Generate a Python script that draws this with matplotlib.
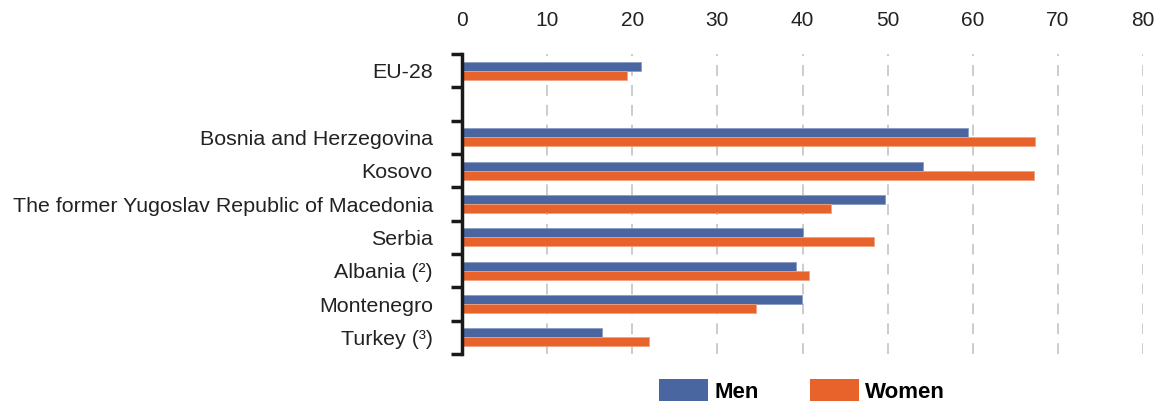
import numpy as np
import matplotlib
matplotlib.use('Agg')
from matplotlib import pyplot as plt
from matplotlib.patches import Patch

plt.rcParams['font.family'] = ['Liberation Sans', 'DejaVu Sans']

# data (share in %); None marks the empty spacer row
countries = ['EU-28', None, 'Bosnia and Herzegovina', 'Kosovo',
             'The former Yugoslav Republic of Macedonia', 'Serbia',
             'Albania (²)', 'Montenegro', 'Turkey (³)']
men = [21.0, None, 59.5, 54.2, 49.7, 40.1, 39.2, 39.9, 16.5]
women = [19.4, None, 67.3, 67.2, 43.3, 48.4, 40.8, 34.5, 22.0]
x_ticks = [0, 10, 20, 30, 40, 50, 60, 70, 80]

men_color = '#4a66a0'
women_color = '#e8622c'

fig = plt.figure(figsize=(11.61, 4.03), dpi=100)
ax = fig.add_axes([462 / 1161, 1 - 354 / 403, (1143 - 462) / 1161, 300 / 403])

pos = np.arange(len(countries))
h = 0.27
for i in pos:
    if men[i] is None:
        continue
    ax.barh(i - h / 2, men[i], height=h, color=men_color, edgecolor='#8a9cc6', linewidth=0.6)
    ax.barh(i + h / 2, women[i], height=h, color=women_color, edgecolor='#f0a080', linewidth=0.6)

ax.set_xlim(0, 80)
ax.set_ylim(len(countries) - 0.5, -0.5)

ax.xaxis.tick_top()
ax.set_xticks(x_ticks)
ax.set_xticklabels([str(t) for t in x_ticks], fontsize=15, color='#222222')
ax.tick_params(axis='x', length=0, pad=17)

ax.set_yticks([p for p, c in zip(pos, countries) if c is not None])
ax.set_yticklabels([c for c in countries if c is not None], fontsize=15.4, color='#222222')
ax.tick_params(axis='y', which='major', length=0, pad=21)
ax.set_yticks(np.arange(-0.5, len(countries), 1), minor=True)
ax.tick_params(axis='y', which='minor', length=8, width=2.5, color='#1a1a1a', direction='out')

for s in ['top', 'right', 'bottom']:
    ax.spines[s].set_visible(False)
ax.spines['left'].set_linewidth(2.5)
ax.spines['left'].set_color('#1a1a1a')

ax.set_axisbelow(True)
ax.grid(axis='x', color='#c8c8c8', linestyle=(0, (6, 5)), linewidth=1.3)
ax.grid(axis='y', visible=False)

handles = [Patch(facecolor=men_color, label='Men'), Patch(facecolor=women_color, label='Women')]
fig.legend(handles=handles, loc='center', bbox_to_anchor=(802 / 1161, 1 - 391 / 403),
           ncol=2, frameon=False, handlelength=2.2, handleheight=1.1, handletextpad=0.3,
           columnspacing=2.3, prop={'weight': 'bold', 'size': 16})

plt.savefig('out.png', dpi=100)
